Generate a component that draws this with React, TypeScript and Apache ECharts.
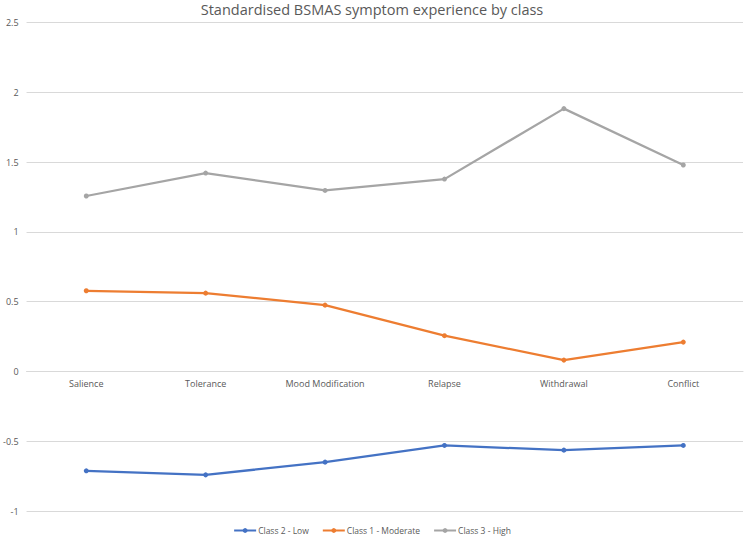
import React, { useEffect, useRef } from "react";
import * as echarts from "echarts";

const categories = ["Salience", "Tolerance", "Mood Modification", "Relapse", "Withdrawal", "Conflict"];
const class2Low = [-0.712, -0.741, -0.65, -0.53, -0.564, -0.53];
const class1Moderate = [0.578, 0.561, 0.475, 0.256, 0.081, 0.21];
const class3High = [1.257, 1.421, 1.297, 1.378, 1.883, 1.479];
const seriesNames = ["Class 2 - Low", "Class 1 - Moderate", "Class 3 - High"];
const colors = ["#4472C4", "#ED7D31", "#A5A5A5"];
const yMin = -1;
const yMax = 2.5;

const FONT = "'Open Sans', 'Liberation Sans', sans-serif";

export default function App() {
  const ref = useRef<HTMLDivElement>(null);
  useEffect(() => {
    if (!ref.current) return;
    const chart = echarts.init(ref.current, undefined, { renderer: "svg" });
    const gridTop = 22.5;
    const gridBottom = 26;
    const plotH = 537 - gridTop - gridBottom;
    const zeroOffset = -(plotH * (0 - yMin)) / (yMax - yMin);
    const mk = (name: string, data: number[], color: string) => ({
      name,
      type: "line",
      data,
      symbol: "circle",
      symbolSize: 5,
      lineStyle: { width: 2.25, color },
      itemStyle: { color },
    });
    chart.setOption({
      animation: false,
      backgroundColor: "#ffffff",
      title: {
        text: "Standardised BSMAS symptom experience by class",
        left: "center",
        top: -3,
        textStyle: { fontFamily: FONT, fontSize: 14.5, fontWeight: "normal", color: "#595959" },
      },
      legend: {
        bottom: -3,
        left: "center",
        itemWidth: 22,
        itemHeight: 6,
        itemGap: 13,
        textStyle: { fontFamily: FONT, fontSize: 8.5, color: "#595959", padding: [0, 0, 0, -3] },
        data: seriesNames,
      },
      grid: { left: 23, right: 1, top: gridTop, bottom: gridBottom, containLabel: false },
      xAxis: {
        type: "category",
        data: categories,
        boundaryGap: true,
        offset: zeroOffset,
        axisLine: { onZero: false, lineStyle: { color: "#d9d9d9", width: 1 } },
        axisTick: { show: false },
        axisLabel: { fontFamily: FONT, fontSize: 9, color: "#595959", margin: 8 },
      },
      yAxis: {
        type: "value",
        min: yMin,
        max: yMax,
        interval: 0.5,
        axisLine: { show: false },
        axisTick: { show: false },
        splitLine: { lineStyle: { color: "#d9d9d9", width: 1 } },
        axisLabel: { fontFamily: FONT, fontSize: 9, color: "#595959", margin: 8 },
      },
      series: [
        mk(seriesNames[0], class2Low, colors[0]),
        mk(seriesNames[1], class1Moderate, colors[1]),
        mk(seriesNames[2], class3High, colors[2]),
      ],
    });
    return () => chart.dispose();
  }, []);
  return (
    <div
      ref={ref}
      style={{ position: "fixed", left: 0, top: 0, width: 744, height: 537, background: "#fff" }}
    />
  );
}
